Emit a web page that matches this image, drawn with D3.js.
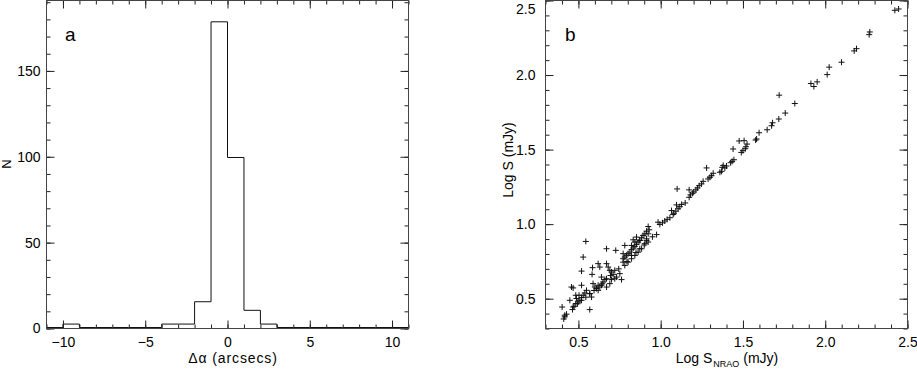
<!DOCTYPE html>
<html>
<head>
<meta charset="utf-8">
<script src="https://cdn.jsdelivr.net/npm/d3@7"></script>
<style>
  body { margin: 0; background: #fff; }
  svg text { font-family: "Liberation Sans", Arial, sans-serif; fill: #000; }
</style>
</head>
<body>
<svg id="fig" width="917" height="369"></svg>
<script>
// panel a: histogram of RA offsets, 1 arcsec bins
var binEdgesA = d3.range(-11, 12, 1);
var countsA = [0, 2, 0, 0, 0, 0, 0, 2, 2, 15, 178, 99, 10, 2, 0, 0, 0, 0, 0, 0, 0, 0];
var xTicksA = [-10, -5, 0, 5, 10];
var yTicksA = [0, 50, 100, 150];

// panel b: log flux vs log NRAO flux
var logSnrao = [
  2.423, 2.446, 2.271, 2.267, 2.19, 2.176, 2.099, 2.024, 2.012, 1.951, 1.913, 1.931,
  1.72, 1.815, 1.757, 1.718, 1.68, 1.674, 1.647, 1.598, 1.583, 1.577, 1.477, 1.507,
  1.525, 1.518, 1.514, 1.50, 1.49, 1.44, 1.445, 1.434, 1.425, 1.40, 1.38, 1.374, 1.39,
  1.279, 1.36, 1.37, 1.319, 1.309, 1.299, 1.288, 1.258, 1.248, 1.234, 1.224, 1.214,
  1.201, 1.194, 1.181, 1.173, 1.10, 1.173, 1.149, 1.127, 1.116, 1.106, 1.092, 1.076,
  1.056, 1.039, 1.025, 1.011, 0.995, 1.066, 1.08, 1.096, 0.984, 0.924, 0.93, 0.914,
  0.904, 0.893, 0.884, 0.873, 0.863, 0.853, 0.843, 0.833, 0.823, 0.813, 0.802, 0.792,
  0.782, 0.772, 0.914, 0.843, 0.833, 0.823, 0.545, 0.529, 0.519, 0.586, 0.583, 0.458,
  0.468, 0.519, 0.401, 0.448, 0.484, 0.569, 0.762, 0.727, 0.772, 0.782, 0.671, 0.681,
  0.691, 0.701, 0.711, 0.732, 0.752, 0.589, 0.60, 0.61, 0.62, 0.63, 0.64, 0.65, 0.661,
  0.549, 0.539, 0.529, 0.519, 0.509, 0.498, 0.484, 0.474, 0.464, 0.428, 0.417, 0.411,
  0.782, 0.802, 0.823, 0.843, 0.863, 0.884, 0.904, 0.914, 0.924, 0.853, 0.873, 0.62,
  0.63, 0.64, 0.671, 0.691, 0.701, 0.721, 0.569, 0.58, 0.488, 0.504, 0.671,
  0.417, 0.468, 0.519, 0.569, 0.62, 0.671, 0.721, 0.772, 0.823, 0.873, 0.924, 0.975,
  0.495, 0.545, 0.595, 0.645, 0.695, 0.745, 0.795, 0.85, 0.90, 0.95
];
var logS = [
  2.434, 2.443, 2.289, 2.271, 2.177, 2.162, 2.086, 2.053, 2.003, 1.954, 1.943, 1.923,
  1.865, 1.809, 1.745, 1.705, 1.68, 1.66, 1.633, 1.613, 1.571, 1.564, 1.558, 1.56,
  1.537, 1.519, 1.506, 1.493, 1.481, 1.504, 1.432, 1.421, 1.412, 1.39, 1.394, 1.381, 1.377,
  1.377, 1.348, 1.354, 1.341, 1.325, 1.314, 1.303, 1.287, 1.27, 1.258, 1.243, 1.23,
  1.216, 1.207, 1.196, 1.18, 1.236, 1.23, 1.142, 1.132, 1.117, 1.103, 1.087, 1.065,
  1.043, 1.032, 1.021, 1.009, 0.998, 1.091, 1.073, 1.129, 1.013, 0.984, 0.962, 0.953,
  0.935, 0.924, 0.909, 0.891, 0.88, 0.864, 0.851, 0.84, 0.829, 0.813, 0.802, 0.791,
  0.779, 0.768, 0.891, 0.88, 0.895, 0.857, 0.884, 0.779, 0.685, 0.708, 0.663, 0.578,
  0.572, 0.59, 0.444, 0.489, 0.523, 0.427, 0.628, 0.824, 0.802, 0.857, 0.735, 0.712,
  0.69, 0.679, 0.663, 0.645, 0.668, 0.601, 0.578, 0.568, 0.556, 0.578, 0.59, 0.612, 0.628,
  0.556, 0.538, 0.523, 0.507, 0.489, 0.478, 0.467, 0.449, 0.427, 0.396, 0.378, 0.364,
  0.723, 0.745, 0.768, 0.79, 0.812, 0.835, 0.869, 0.902, 0.935, 0.913, 0.891, 0.735,
  0.712, 0.645, 0.578, 0.601, 0.628, 0.634, 0.534, 0.511, 0.501, 0.523, 0.835,
  0.389, 0.444, 0.489, 0.534, 0.59, 0.634, 0.69, 0.745, 0.79, 0.835, 0.88, 0.93,
  0.466, 0.51, 0.555, 0.60, 0.655, 0.70, 0.75, 0.81, 0.86, 0.915
];
var ticksB = [0.5, 1.0, 1.5, 2.0, 2.5];

var svg = d3.select("#fig");

// frame boxes
var boxA = {left: 46.5, right: 408.5, top: 0.5, bottom: 328.5};
var boxB = {left: 545.5, right: 907.5, top: 0.5, bottom: 328.5};

var xA = d3.scaleLinear().domain([-11, 11]).range([boxA.left, boxA.right]);
var yA = d3.scaleLinear().domain([0, 191]).range([boxA.bottom, boxA.top]);
var xB = d3.scaleLinear().domain([0.3, 2.5]).range([boxB.left, boxB.right]);
var yB = d3.scaleLinear().domain([0.3, 2.5]).range([boxB.bottom, boxB.top]);

// draws inward ticks on all 4 sides, labels on bottom and left
function drawAxes(box, x, y, xMaj, xMin, yMaj, yMin, xFmt, yFmt, yPad) {
    var g = svg.append("g");
    var sides = [
        {gen: d3.axisBottom, sc: x, t: `translate(0,${box.bottom})`},
        {gen: d3.axisTop, sc: x, t: `translate(0,${box.top})`},
        {gen: d3.axisLeft, sc: y, t: `translate(${box.left},0)`},
        {gen: d3.axisRight, sc: y, t: `translate(${box.right},0)`}
    ];
    sides.forEach(function(s, i) {
        var horiz = i < 2;
        var maj = horiz ? xMaj : yMaj, mn = horiz ? xMin : yMin;
        g.append("g").attr("transform", s.t)
            .call(s.gen(s.sc).tickValues(mn).tickSize(-4).tickSizeOuter(0).tickFormat(""))
            .call(a => a.select(".domain").remove());
        var ag = g.append("g").attr("transform", s.t)
            .call(s.gen(s.sc).tickValues(maj).tickSize(-8).tickSizeOuter(0)
                .tickPadding(i == 0 ? 9 : yPad)
                .tickFormat(i == 0 ? xFmt : (i == 2 ? yFmt : "")))
            .call(a => a.select(".domain").remove());
        ag.selectAll("text").attr("font-size", 14).attr("font-family", null);
    });
    g.selectAll(".tick line").attr("stroke", "#222");
    g.append("rect")
        .attr("x", box.left).attr("y", box.top)
        .attr("width", box.right - box.left).attr("height", box.bottom - box.top)
        .attr("fill", "none").attr("stroke", "#444").attr("stroke-width", 1);
    return g;
}

// ---- panel a
var stepPts = [];
countsA.forEach(function(c, i) {
    stepPts.push([binEdgesA[i], c]);
    stepPts.push([binEdgesA[i + 1], c]);
});
svg.append("path")
    .attr("d", d3.line().x(d => xA(d[0])).y(d => yA(d[1]) - 1)(stepPts))
    .attr("fill", "none").attr("stroke", "#111").attr("stroke-width", 1);

drawAxes(boxA, xA, yA, xTicksA, d3.range(-11, 12, 1), yTicksA, d3.range(0, 191, 10),
    d3.format("d"), d3.format("d"), 6);

svg.append("text").attr("x", 233).attr("y", 363).attr("text-anchor", "middle")
    .attr("font-size", 14).attr("letter-spacing", 0.9).text("Δα (arcsecs)");
svg.append("text").attr("transform", "translate(11,164) rotate(-90)")
    .attr("text-anchor", "middle").attr("font-size", 13).text("N");
svg.append("text").attr("x", 65).attr("y", 41).attr("font-size", 19).text("a");

// ---- panel b
svg.append("g").selectAll("path")
    .data(logSnrao.map((v, i) => [v, logS[i]]))
    .join("path")
    .attr("transform", d => `translate(${xB(d[0])},${yB(d[1])})`)
    .attr("d", "M-3,0H3M0,-3V3")
    .attr("stroke", "#111").attr("stroke-width", 1).attr("fill", "none");

var axB = drawAxes(boxB, xB, yB, ticksB, d3.range(3, 26).map(v => v / 10),
    ticksB, d3.range(3, 26).map(v => v / 10), d3.format(".1f"), d3.format(".1f"), 10);
// keep the top y label inside the picture
axB.selectAll(".tick").filter(function(d) { return d == 2.5 && Math.abs(yB(d) - boxB.top) < 1; })
    .select("text").filter(function() { return this.getAttribute("x") != null && +this.getAttribute("x") < 0; })
    .attr("dy", "0.95em");

var xl = svg.append("text").attr("x", 727).attr("y", 363).attr("text-anchor", "middle").attr("font-size", 14);
xl.append("tspan").text("Log S");
xl.append("tspan").attr("font-size", 9).attr("dy", 4).attr("dx", 1).text("NRAO");
xl.append("tspan").attr("dy", -4).text(" (mJy)");
svg.append("text").attr("transform", "translate(513,160) rotate(-90)")
    .attr("text-anchor", "middle").attr("font-size", 14).text("Log S (mJy)");
svg.append("text").attr("x", 565).attr("y", 41).attr("font-size", 19).text("b");
</script>
</body>
</html>
